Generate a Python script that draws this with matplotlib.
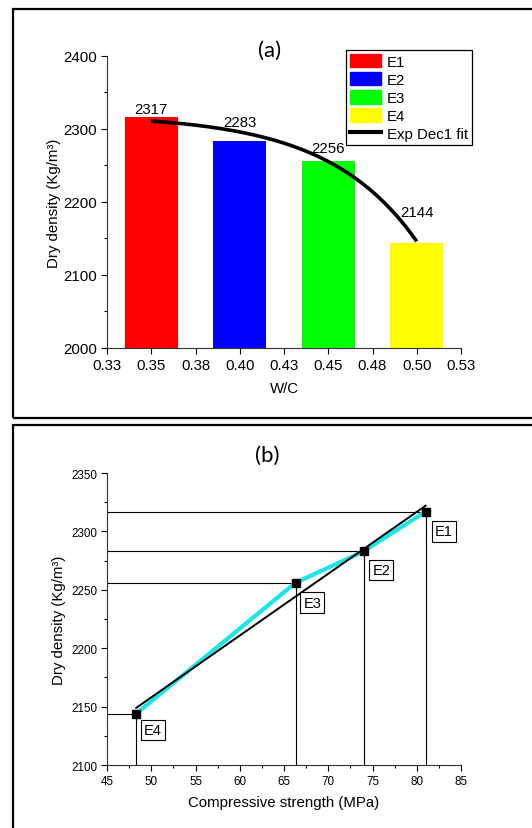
import numpy as np
import matplotlib
matplotlib.use('Agg')
import matplotlib.pyplot as plt
from matplotlib.patches import Rectangle, Patch
from matplotlib.lines import Line2D
from matplotlib.ticker import MultipleLocator, FixedLocator

plt.rcParams['font.family'] = ['Liberation Sans', 'DejaVu Sans']

# ---- data -------------------------------------------------------------
mixes = ['E1', 'E2', 'E3', 'E4']
wc_ratio = [0.35, 0.40, 0.45, 0.50]
dry_density = [2317, 2283, 2256, 2144]
comp_strength = [81.0, 74.0, 66.3, 48.3]
bar_colors = ['#FF0000', '#0000FF', '#00FF00', '#FFFF00']

# Exp Dec1 fit parameters (Origin form y = A1*exp(-x/t1) + y0)
expdec_A1 = -0.00844
expdec_t1 = -0.05034
expdec_y0 = 2319.8

wc_ticks = [0.325, 0.35, 0.375, 0.40, 0.425, 0.45, 0.475, 0.50, 0.525]
wc_ticklabels = ['0.33', '0.35', '0.38', '0.40', '0.43', '0.45', '0.48', '0.50', '0.53']

W, H = 532, 829
fig = plt.figure(figsize=(W / 100, H / 100), dpi=100)


def fbox(left, top, right, bottom):
    """pixel box -> figure fraction [l, b, w, h]"""
    return [left / W, 1 - bottom / H, (right - left) / W, (bottom - top) / H]


# outer panel frames
for top, bottom in [(10, 419), (426, 840)]:
    fig.add_artist(Rectangle((13 / W, 1 - bottom / H), (560 - 13) / W,
                             (bottom - top) / H, transform=fig.transFigure,
                             fill=False, lw=1.6, ec='black', zorder=0))

# ═══ Panel (a) ══════════════════════════════════════════════════════════
ax_a = fig.add_axes(fbox(107, 57, 461, 349))
ax_a.bar(wc_ratio, [d - 2000 for d in dry_density], 0.03, bottom=2000,
         color=bar_colors, zorder=2)

xf = np.linspace(wc_ratio[0], wc_ratio[-1], 200)
yf = expdec_A1 * np.exp(-xf / expdec_t1) + expdec_y0
ax_a.plot(xf, yf, color='black', lw=2.6, zorder=3, solid_capstyle='butt')

label_dy = [10, 27, 18, 42]
for x, d, dy in zip(wc_ratio, dry_density, label_dy):
    ax_a.text(x, d + dy, f'{d}', ha='center', va='center', fontsize=10.8,
              zorder=4)

ax_a.set_xlim(0.325, 0.525)
ax_a.set_ylim(2000, 2400)
ax_a.xaxis.set_major_locator(FixedLocator(wc_ticks))
ax_a.set_xticklabels(wc_ticklabels)
ax_a.yaxis.set_major_locator(MultipleLocator(100))
ax_a.yaxis.set_minor_locator(MultipleLocator(50))
ax_a.set_xlabel('W/C', fontsize=10.8, labelpad=7)
ax_a.set_ylabel('Dry density (Kg/m³)', fontsize=10.8, labelpad=2)

handles = [Patch(color=c) for c in bar_colors]
handles.append(Line2D([0], [0], color='black', lw=3))
leg = ax_a.legend(handles, mixes + ['Exp Dec1 fit'], loc='upper right',
                  bbox_to_anchor=(1.03, 1.02), fontsize=10.8, frameon=True,
                  fancybox=False, edgecolor='black', framealpha=1,
                  borderpad=0.25, labelspacing=0.22, handlelength=2.1,
                  handleheight=1.0, handletextpad=0.35, borderaxespad=0)
leg.get_frame().set_linewidth(0.9)

fig.text(270 / W, 1 - 51 / H, '(a)', ha='center', va='center',
         fontsize=16, family=['Lato', 'DejaVu Sans'])

# ═══ Panel (b) ══════════════════════════════════════════════════════════
ax_b = fig.add_axes(fbox(107, 474, 461, 766))

# drop lines to the axes
for x, d in zip(comp_strength, dry_density):
    ax_b.plot([45, x], [d, d], color='black', lw=0.8, zorder=1)
    ax_b.plot([x, x], [2100, d], color='black', lw=0.8, zorder=1)

ax_b.plot(comp_strength, dry_density, color='#19E6E6', lw=3, zorder=2)

slope, intercept = np.polyfit(comp_strength, dry_density, 1)
xl = np.array([min(comp_strength), max(comp_strength)])
ax_b.plot(xl, slope * xl + intercept, color='black', lw=1.4, zorder=3)

ax_b.plot(comp_strength, dry_density, ls='none', marker='s', ms=6,
          color='black', zorder=4)

label_off = [(2.1, -17), (2.0, -16), (1.9, -17), (1.9, -14)]
for name, x, d, (dx, dy) in zip(mixes, comp_strength, dry_density, label_off):
    ax_b.text(x + dx, d + dy, name, ha='center', va='center', fontsize=10.5,
              bbox=dict(boxstyle='square,pad=0.22', fc='white', ec='black',
                        lw=0.8), zorder=5)

ax_b.set_xlim(45, 85)
ax_b.set_ylim(2100, 2350)
ax_b.xaxis.set_major_locator(MultipleLocator(5))
ax_b.xaxis.set_minor_locator(MultipleLocator(2.5))
ax_b.yaxis.set_major_locator(MultipleLocator(50))
ax_b.yaxis.set_minor_locator(MultipleLocator(25))
ax_b.set_xlabel('Compressive strength (MPa)', fontsize=10.8, labelpad=6)
ax_b.set_ylabel('Dry density (Kg/m³)', fontsize=10.8, labelpad=4)

fig.text(267 / W, 1 - 456 / H, '(b)', ha='center', va='center',
         fontsize=16, family=['Lato', 'DejaVu Sans'])

for ax, fs in [(ax_a, 10.8), (ax_b, 8.4)]:
    ax.spines['top'].set_visible(False)
    ax.spines['right'].set_visible(False)
    for s in ('left', 'bottom'):
        ax.spines[s].set_linewidth(0.8)
        ax.spines[s].set_color('#333333')
    ax.tick_params(which='major', direction='out', length=4, width=0.8,
                   labelsize=fs, pad=3)
    ax.tick_params(which='minor', direction='out', length=2.5, width=0.8)

fig.savefig('out.png', dpi=100)
